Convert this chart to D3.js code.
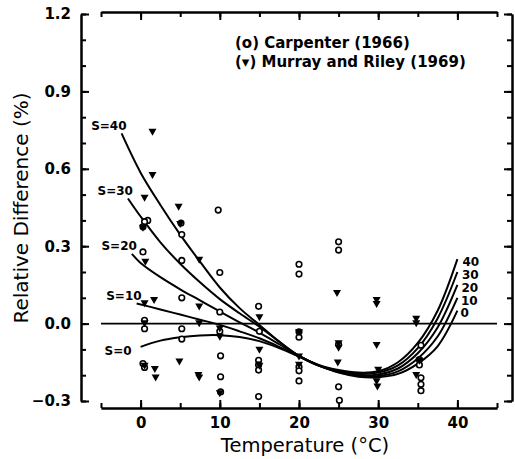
<!DOCTYPE html>
<html>
<head>
<meta charset="utf-8">
<script src="https://cdn.jsdelivr.net/npm/d3@7"></script>
<style>
  body { margin: 0; background: #fff; }
  svg { display: block; }
  text { font-family: "DejaVu Sans", sans-serif; fill: #000; }
</style>
</head>
<body>
<div id="chart"></div>
<script>
// fitted curves for each salinity, [temperature, relative difference %]
var curveS0  = [[0,-0.09],[2.5,-0.066],[5,-0.053],[7.5,-0.046],[10,-0.045],[12.5,-0.052],[15,-0.068],[17.5,-0.095],[20,-0.128],[22.5,-0.163],[25,-0.19],[27.5,-0.206],[30,-0.208],[32.5,-0.195],[35,-0.155],[37.5,-0.088],[40,0.05]];
var curveS10 = [[-0.5,0.078],[2.5,0.055],[5,0.035],[7.5,0.015],[10,-0.005],[12.5,-0.03],[15,-0.057],[17.5,-0.09],[20,-0.127],[22.5,-0.163],[25,-0.188],[27.5,-0.203],[30,-0.203],[32.5,-0.185],[35,-0.135],[37.5,-0.05],[40,0.1]];
var curveS20 = [[-1.1,0.27],[0,0.235],[2.5,0.18],[5,0.133],[7.5,0.09],[10,0.047],[12.5,0.005],[15,-0.035],[17.5,-0.08],[20,-0.125],[22.5,-0.163],[25,-0.186],[27.5,-0.2],[30,-0.197],[32.5,-0.174],[35,-0.115],[37.5,-0.015],[40,0.15]];
var curveS30 = [[-1.6,0.485],[0,0.415],[2.5,0.315],[5,0.232],[7.5,0.16],[10,0.095],[12.5,0.04],[15,-0.012],[17.5,-0.07],[20,-0.125],[22.5,-0.162],[25,-0.183],[27.5,-0.195],[30,-0.19],[32.5,-0.162],[35,-0.095],[37.5,0.02],[40,0.2]];
var curveS40 = [[-2.4,0.737],[0,0.585],[2.5,0.46],[5,0.345],[7.5,0.24],[10,0.14],[12.5,0.06],[15,-0.005],[17.5,-0.07],[20,-0.125],[22.5,-0.16],[25,-0.18],[27.5,-0.19],[30,-0.185],[32.5,-0.15],[35,-0.075],[37.5,0.05],[40,0.25]];
var salinity = [0, 10, 20, 30, 40];

// Carpenter (1966), circles
var carpenterT = [0.9,0.5,0.3,0.3,0.5,0.5,0.3,0.5, 5.1,5.2,5.2,5.2,5.2,5.2, 9.8,10,10,10,10.1,10.1,10.1, 14.9,15,14.9,14.9,14.9,14.9, 20,20,20,20,20,20,20, 25,25,25,25,25.1, 35.4,35.2,35.2,35.4,35.4,35.4];
var carpenterV = [0.40,0.395,0.375,0.278,0.013,-0.02,-0.155,-0.17, 0.39,0.345,0.245,0.10,-0.02,-0.06, 0.44,0.198,0.045,-0.03,-0.125,-0.206,-0.265, 0.067,-0.03,-0.142,-0.16,-0.18,-0.283, 0.23,0.192,-0.032,-0.053,-0.168,-0.183,-0.222, 0.317,0.285,-0.08,-0.245,-0.297, -0.084,-0.14,-0.16,-0.21,-0.235,-0.26];

// Murray and Riley (1969), triangles
var murrayT = [0.5,0.3,0.6,0.5,0.5,0.5, 1.5,1.5,1.7,1.8,1.9, 4.8,5.0,4.9, 7.4,7.4,7.4,7.4,7.3, 10,10,10, 15,15,15, 20,20,20, 24.8,25,25,24.9, 29.8,29.8,29.8,30,29.8,29.9, 34.8,34.8,34.8,35.2];
var murrayV = [0.487,0.37,0.239,0.078,0.0,-0.165, 0.742,0.575,0.09,-0.177,-0.21, 0.452,0.385,-0.148, 0.246,0.065,0.0,-0.21,-0.2, -0.02,-0.052,-0.271, 0.023,-0.103,-0.165, -0.035,-0.129,-0.161, 0.117,-0.077,-0.095,-0.152, 0.09,0.075,-0.084,-0.18,-0.225,-0.245, 0.018,0.0,-0.2,-0.145];

var xTicks = [0, 10, 20, 30, 40];
var xMinor = [-5, 0, 5, 10, 15, 20, 25, 30, 35, 40, 45];
var yTicks = [-0.3, 0, 0.3, 0.6, 0.9, 1.2];
var yMinor = d3.range(-3, 13).map(function (d) { return d / 10; });

var svg = d3.select("#chart").append("svg")
    .attr("width", 515)
    .attr("height", 459);

var x = d3.scaleLinear().domain([-5, 45]).range([101, 497]);
var y = d3.scaleLinear().domain([-0.3, 1.2]).range([401, 14]);

function styleAxis(g) {
  g.selectAll("path, line").attr("stroke", "#000").attr("stroke-width", 2);
  g.selectAll("text").remove();
}

// frame: bottom / top / left / right, ticks pointing inward
svg.append("g").attr("transform", "translate(0,408)")
    .call(d3.axisTop(x).tickValues(xMinor).tickSize(5).tickSizeOuter(0)).call(styleAxis);
svg.append("g").attr("transform", "translate(0,408)")
    .call(d3.axisTop(x).tickValues(xTicks).tickSize(8).tickSizeOuter(0)).call(styleAxis);
svg.append("g").attr("transform", "translate(0,12)")
    .call(d3.axisBottom(x).tickValues(xMinor).tickSize(5).tickSizeOuter(0)).call(styleAxis);
svg.append("g").attr("transform", "translate(0,12)")
    .call(d3.axisBottom(x).tickValues(xTicks).tickSize(8).tickSizeOuter(0)).call(styleAxis);
svg.append("g").attr("transform", "translate(81,0)")
    .call(d3.axisRight(y).tickValues(yMinor).tickSize(5).tickSizeOuter(0)).call(styleAxis);
svg.append("g").attr("transform", "translate(81,0)")
    .call(d3.axisRight(y).tickValues(yTicks).tickSize(8).tickSizeOuter(0)).call(styleAxis);
svg.append("g").attr("transform", "translate(512,0)")
    .call(d3.axisLeft(y).tickValues(yMinor).tickSize(5).tickSizeOuter(0)).call(styleAxis);
svg.append("g").attr("transform", "translate(512,0)")
    .call(d3.axisLeft(y).tickValues(yTicks).tickSize(8).tickSizeOuter(0)).call(styleAxis);

// tick labels
var yLab = svg.append("g").attr("transform", "translate(81,0)")
    .call(d3.axisLeft(y).tickValues(yTicks).tickSize(0).tickPadding(10).tickFormat(d3.format(".1f")));
yLab.select(".domain").remove();
yLab.selectAll("text").attr("font-family", "DejaVu Sans").attr("font-size", 15).attr("font-weight", "bold");

var xLab = svg.append("g").attr("transform", "translate(0,408)")
    .call(d3.axisBottom(x).tickValues(xTicks).tickSize(0).tickPadding(9).tickFormat(d3.format("d")));
xLab.select(".domain").remove();
xLab.selectAll("text").attr("font-family", "DejaVu Sans").attr("font-size", 15).attr("font-weight", "bold");

// axis titles
svg.append("text")
    .attr("x", 305).attr("y", 452)
    .attr("text-anchor", "middle")
    .style("font-size", "19.5px")
    .text("Temperature (°C)");

svg.append("text")
    .attr("transform", "translate(28,208) rotate(-90)")
    .attr("text-anchor", "middle")
    .style("font-size", "20px")
    .text("Relative Difference (%)");

// zero line
svg.append("line")
    .attr("x1", x(-5)).attr("x2", x(45))
    .attr("y1", y(0)).attr("y2", y(0))
    .attr("stroke", "#000").attr("stroke-width", 1.8);

// curves
var curves = [curveS0, curveS10, curveS20, curveS30, curveS40];
var line = d3.line()
    .x(function (d) { return x(d[0]); })
    .y(function (d) { return y(d[1]); })
    .curve(d3.curveCatmullRom.alpha(0.5));

svg.selectAll("path.curve")
    .data(curves)
    .enter().append("path")
    .attr("class", "curve")
    .attr("d", line)
    .attr("fill", "none")
    .attr("stroke", "#000")
    .attr("stroke-width", 2);

// curve labels at the start (left) and end (right)
curves.forEach(function (c, i) {
  var first = c[0], last = c[c.length - 1];
  var s = salinity[i];
  svg.append("text")
      .attr("x", s === 0 ? x(first[0]) - 9 : x(first[0]) + 5)
      .attr("y", s === 0 ? y(first[1]) + 4 : y(first[1]) - 8)
      .attr("dy", "0.35em")
      .attr("text-anchor", "end")
      .style("font-size", "12px")
      .style("font-weight", "bold")
      .text("S=" + s);
  svg.append("text")
      .attr("x", x(last[0]) + 5 - (40 - s) / 20)
      .attr("y", y(last[1]) + 2.5)
      .attr("dy", "0.35em")
      .style("font-size", "12px")
      .style("font-weight", "bold")
      .text(s);
});

// data points
svg.selectAll("circle.carp")
    .data(carpenterT)
    .enter().append("circle")
    .attr("class", "carp")
    .attr("cx", function (d) { return x(d); })
    .attr("cy", function (d, i) { return y(carpenterV[i]); })
    .attr("r", 2.8)
    .attr("fill", "#fff")
    .attr("stroke", "#000")
    .attr("stroke-width", 1.6);

svg.selectAll("path.mr")
    .data(murrayT)
    .enter().append("path")
    .attr("class", "mr")
    .attr("d", "M-4,-3.3L4,-3.3L0,3.7Z")
    .attr("transform", function (d, i) { return "translate(" + x(d) + "," + y(murrayV[i]) + ")"; })
    .attr("fill", "#000");

// legend
svg.selectAll("text.legend")
    .data(["(o) Carpenter (1966)", "(▾) Murray and Riley (1969)"])
    .enter().append("text")
    .attr("class", "legend")
    .attr("x", 235)
    .attr("y", function (d, i) { return 48 + i * 19; })
    .style("font-size", "15px")
    .style("font-weight", "bold")
    .text(function (d) { return d; });
</script>
</body>
</html>
